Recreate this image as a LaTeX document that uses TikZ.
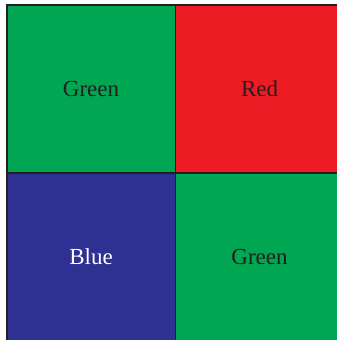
\documentclass[tikz,border=0pt]{standalone}
\usepackage{fontspec}
\setmainfont{Liberation Serif}
\definecolor{cgreen}{RGB}{0,166,81}
\definecolor{cred}{RGB}{237,28,36}
\definecolor{cblue}{RGB}{46,49,146}
\definecolor{cline}{RGB}{35,31,32}
\begin{document}
\begin{tikzpicture}[x=1pt,y=-1pt,
  cell/.style={draw=cline,line width=1.6pt,minimum width=168.5pt,minimum height=168pt,inner sep=0pt,anchor=north west,font=\fontsize{23}{26}\selectfont},
  dark/.style={text=cline},
  light/.style={text=white}]
\useasboundingbox (0,0) rectangle (337,340);
\begin{scope}
\clip (0,0) rectangle (337,340);
\node[cell,fill=cgreen,dark] (tl) at (6,4) {Green};
\node[cell,fill=cred,dark] (tr) at (174.5,4) {Red};
\node[cell,fill=cblue,light] (bl) at (6,172) {Blue};
\node[cell,fill=cgreen,dark] (br) at (174.5,172) {Green};
\end{scope}
\end{tikzpicture}
\end{document}
